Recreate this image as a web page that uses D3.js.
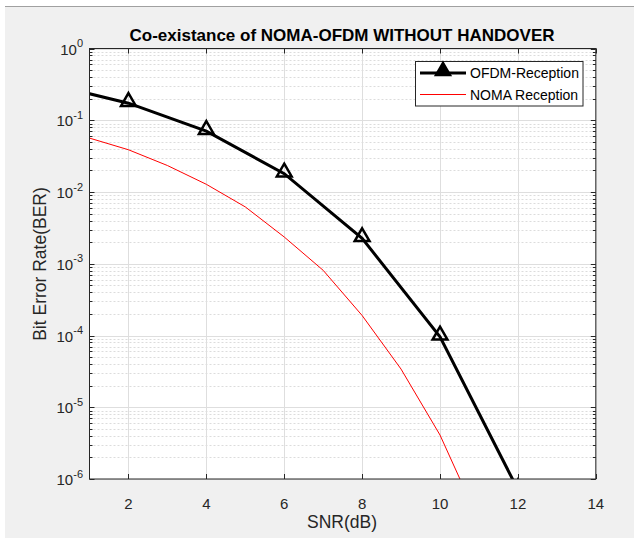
<!DOCTYPE html>
<html><head><meta charset="utf-8">
<script src="https://cdn.jsdelivr.net/npm/d3@7"></script>
<style>html,body{margin:0;padding:0;background:#fff;} svg{display:block;font-family:"Liberation Sans",Arial,Helvetica,sans-serif;}</style>
</head><body>
<svg id="c" width="634" height="538"></svg>
<script>
const titleText = "Co-existance of NOMA-OFDM WITHOUT HANDOVER";
const xLabel = "SNR(dB)";
const yLabel = "Bit Error Rate(BER)";
const xTicks = [2,4,6,8,10,12,14];
const yExponents = [0,-1,-2,-3,-4,-5,-6];
const ofdmSNR = [0,2,4,6,8,10,12];
const ofdmBER = [0.316,0.173,0.0705,0.018,0.00226,0.000096,7.1e-7];
const nomaSNR = [1,2,3,4,5,6,7,8,9,10,11];
const nomaBER = [0.0564,0.0388,0.0234,0.0128,0.0062,0.00236,0.00081,0.00019,0.000034,0.0000041,2.6e-7];
const seriesNames = ["OFDM-Reception","NOMA Reception"];

const svg = d3.select("#c");
const L=89.5,R=595.8,T=48.5,B=479;
svg.append("rect").attr("x",5).attr("y",6).attr("width",629).attr("height",532).attr("fill","#f0f0f0");
svg.append("line").attr("x1",5).attr("x2",634).attr("y1",6.5).attr("y2",6.5).attr("stroke","#a0a0a0").attr("stroke-width",1);
svg.append("rect").attr("x",L).attr("y",T).attr("width",R-L).attr("height",B-T).attr("fill","#fff");

const x = d3.scaleLinear().domain([1,14]).range([L,R]);
const y = d3.scaleLog().domain([1e-6,1]).range([B,T]);

const g = svg.append("g");
const minors=[];
for(let e=-6;e<0;e++){for(let m=2;m<=9;m++){minors.push(m*Math.pow(10,e));}}
g.selectAll(".mg").data(minors).enter().append("line")
 .attr("x1",L).attr("x2",R).attr("y1",d=>Math.round(y(d))+0.5).attr("y2",d=>Math.round(y(d))+0.5)
 .attr("stroke","#dcdcdc").attr("stroke-width",1).attr("stroke-dasharray","2,2");
g.selectAll(".gy").data(yExponents.map(e=>Math.pow(10,e))).enter().append("line")
 .attr("x1",L).attr("x2",R).attr("y1",d=>Math.round(y(d))+0.5).attr("y2",d=>Math.round(y(d))+0.5)
 .attr("stroke","#dedede").attr("stroke-width",1);
g.selectAll(".gx").data(xTicks).enter().append("line")
 .attr("x1",d=>Math.round(x(d))+0.5).attr("x2",d=>Math.round(x(d))+0.5).attr("y1",T).attr("y2",B)
 .attr("stroke","#dedede").attr("stroke-width",1);

svg.append("defs").append("clipPath").attr("id","clip").append("rect").attr("x",L).attr("y",T).attr("width",R-L).attr("height",B-T);
const line = d3.line().x(d=>x(d[0])).y(d=>y(d[1]));
const cg = svg.append("g").attr("clip-path","url(#clip)");
const nomaData = nomaSNR.map((s,i)=>[s,nomaBER[i]]);
const ofdmData = ofdmSNR.map((s,i)=>[s,ofdmBER[i]]);
cg.append("path").datum(nomaData).attr("d",line).attr("fill","none").attr("stroke","#ff0000").attr("stroke-width",1);
cg.append("path").datum(ofdmData).attr("d",line).attr("fill","none").attr("stroke","#000").attr("stroke-width",3);
const tri = d3.symbol().type(d3.symbolTriangle).size(95);
cg.selectAll(".mk").data(ofdmData).enter().append("path")
 .attr("d",tri).attr("transform",d=>`translate(${x(d[0])},${y(d[1])-1.5})`)
 .attr("fill","none").attr("stroke","#000").attr("stroke-width",2.5);

const ax = svg.append("g");
ax.append("rect").attr("x",L).attr("y",T).attr("width",R-L).attr("height",B-T).attr("fill","none").attr("stroke","#262626").attr("stroke-width",1);
xTicks.forEach(t=>{
  const px=Math.round(x(t))+0.5;
  ax.append("line").attr("x1",px).attr("x2",px).attr("y1",B).attr("y2",B-5).attr("stroke","#262626");
  ax.append("line").attr("x1",px).attr("x2",px).attr("y1",T).attr("y2",T+5).attr("stroke","#262626");
  ax.append("text").attr("x",x(t)).attr("y",509).attr("text-anchor","middle").attr("font-size",15).attr("fill","#262626").text(t);
});
yExponents.forEach(e=>{
  const v=Math.pow(10,e); const py=Math.round(y(v))+0.5;
  ax.append("line").attr("x1",L).attr("x2",L+5).attr("y1",py).attr("y2",py).attr("stroke","#262626");
  ax.append("line").attr("x1",R).attr("x2",R-5).attr("y1",py).attr("y2",py).attr("stroke","#262626");
  const tx = ax.append("text").attr("x",83).attr("y",y(v)+6).attr("text-anchor","end").attr("font-size",15).attr("fill","#262626");
  tx.append("tspan").text("10");
  tx.append("tspan").attr("dy",-7.5).attr("font-size",11).text(String(e));
});
minors.forEach(v=>{
  const py=Math.round(y(v))+0.5;
  ax.append("line").attr("x1",L).attr("x2",L+3).attr("y1",py).attr("y2",py).attr("stroke","#262626");
  ax.append("line").attr("x1",R).attr("x2",R-3).attr("y1",py).attr("y2",py).attr("stroke","#262626");
});

svg.append("text").attr("x",342).attr("y",41).attr("text-anchor","middle").attr("font-size",17).attr("font-weight","bold").attr("fill","#000").text(titleText);
svg.append("text").attr("x",342).attr("y",528).attr("text-anchor","middle").attr("font-size",17.5).attr("fill","#262626").text(xLabel);
svg.append("text").attr("transform","translate(46,264) rotate(-90)").attr("text-anchor","middle").attr("font-size",17.5).attr("fill","#262626").text(yLabel);

const lg = svg.append("g");
lg.append("rect").attr("x",415.5).attr("y",61.5).attr("width",167.5).attr("height",44.5).attr("fill","#fff").attr("stroke","#262626").attr("stroke-width",1);
lg.append("line").attr("x1",420).attr("x2",466).attr("y1",73).attr("y2",73).attr("stroke","#000").attr("stroke-width",3);
lg.append("path").attr("d",tri).attr("transform","translate(443,71)").attr("fill","#000").attr("stroke","#000").attr("stroke-width",2);
lg.append("line").attr("x1",420).attr("x2",466).attr("y1",94.5).attr("y2",94.5).attr("stroke","#ff0000").attr("stroke-width",1);
lg.append("text").attr("x",470).attr("y",78).attr("font-size",14).attr("fill","#000").text(seriesNames[0]);
lg.append("text").attr("x",470).attr("y",99.5).attr("font-size",14).attr("fill","#000").text(seriesNames[1]);
</script>
</body></html>
